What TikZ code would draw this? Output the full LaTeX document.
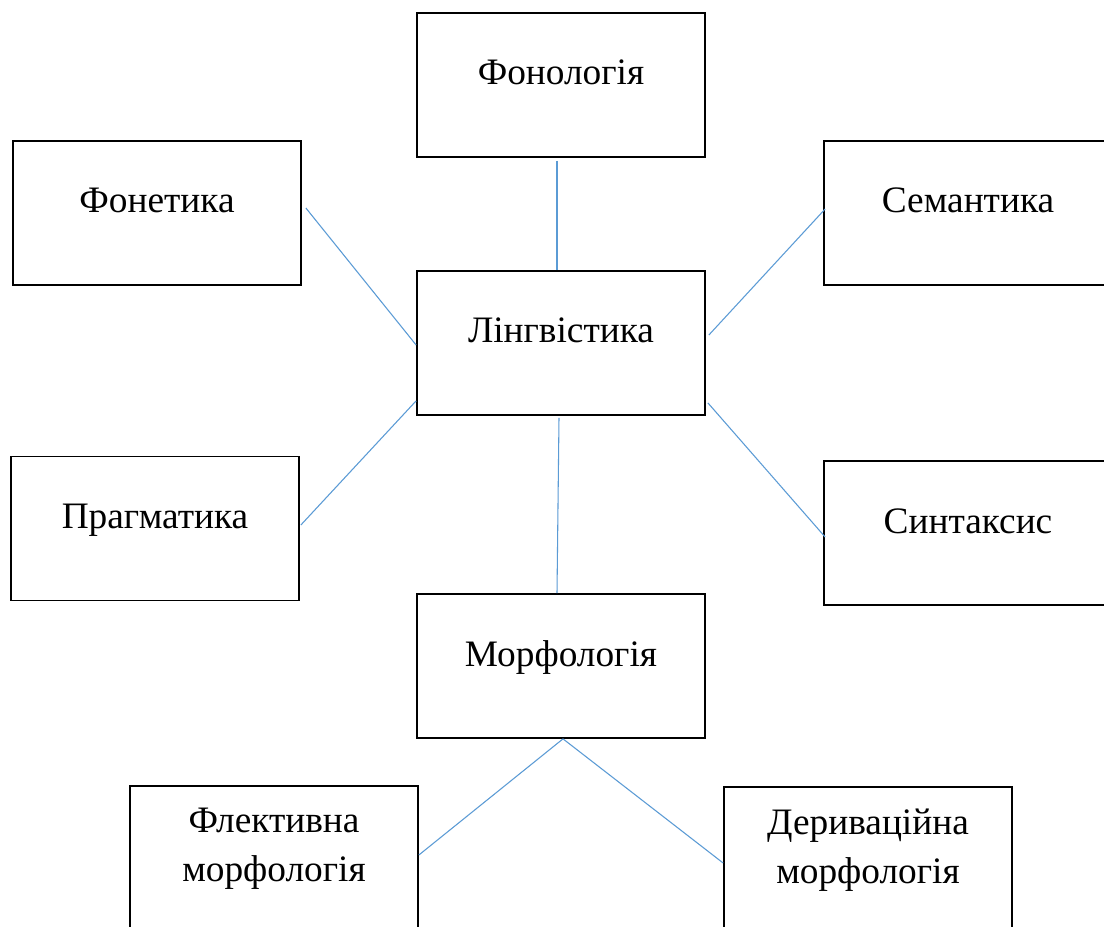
\documentclass[tikz,border=0pt]{standalone}
\usepackage{fontspec}
\setmainfont{Liberation Serif}
\definecolor{linkblue}{RGB}{91,155,213}
\tikzset{
  box/.style={draw=black, line width=1.3pt, minimum width=216pt, minimum height=108pt, inner sep=0pt},
  lbl/.style={font=\fontsize{28}{36.75}\selectfont, align=center, inner sep=0pt},
  link/.style={draw=linkblue, line width=0.8pt},
}
\begin{document}
\begin{tikzpicture}[x=0.75pt,y=-0.75pt]
\clip (0,0) rectangle (1104,927);
\fill[white] (0,0) rectangle (1104,927);
% boxes
\node[box] (phon)  at (561,85)    {};
\node[box] (fonet) at (157,213)   {};
\node[box] (sem)   at (968,213)   {};
\node[box] (ling)  at (561,343)   {};
\node[box] (prag)  at (155,528.5) {};
\node[box] (synt)  at (968,533)   {};
\node[box] (morph) at (561,666)   {};
\node[box] (flek)  at (274,858)   {};
\node[box] (deriv) at (868,859)   {};
% texts
\node[lbl, anchor=base] at (phon.center)  {Фонологія};
\node[lbl, anchor=base] at (fonet.center) {Фонетика};
\node[lbl, anchor=base] at (sem.center)   {Семантика};
\node[lbl, anchor=base] at (ling.center)  {Лінгвістика};
\node[lbl, anchor=base] at (prag.center)  {Прагматика};
\node[lbl, anchor=base] at (synt.center)  {Синтаксис};
\node[lbl, anchor=base] at (morph.center) {Морфологія};
\node[lbl] at ([yshift=6.6pt]flek.center)  {Флективна\\морфологія};
\node[lbl] at ([yshift=6.6pt]deriv.center) {Дериваційна\\морфологія};
% connectors
\draw[link] ([shift={(-4,3)}]phon.south) -- ([shift={(-4,0)}]ling.north);
\draw[link] ([shift={(4,-5)}]fonet.east) -- ([shift={(0,2)}]ling.west);
\draw[link] ([shift={(2,-4)}]sem.west) -- ([shift={(3,-8)}]ling.east);
\draw[link] ([shift={(1,-3.5)}]prag.east) -- ([shift={(0,-15)}]ling.south west);
\draw[link] ([shift={(2,4)}]synt.west) -- ([shift={(2,-13)}]ling.south east);
\draw[link] ([shift={(-2,2)}]ling.south) -- ([shift={(-4,0)}]morph.north);
\draw[link] ([shift={(2,0)}]morph.south) -- ([shift={(0,-3)}]flek.east);
\draw[link] ([shift={(2,0)}]morph.south) -- ([shift={(0,4)}]deriv.west);
\end{tikzpicture}
\end{document}
